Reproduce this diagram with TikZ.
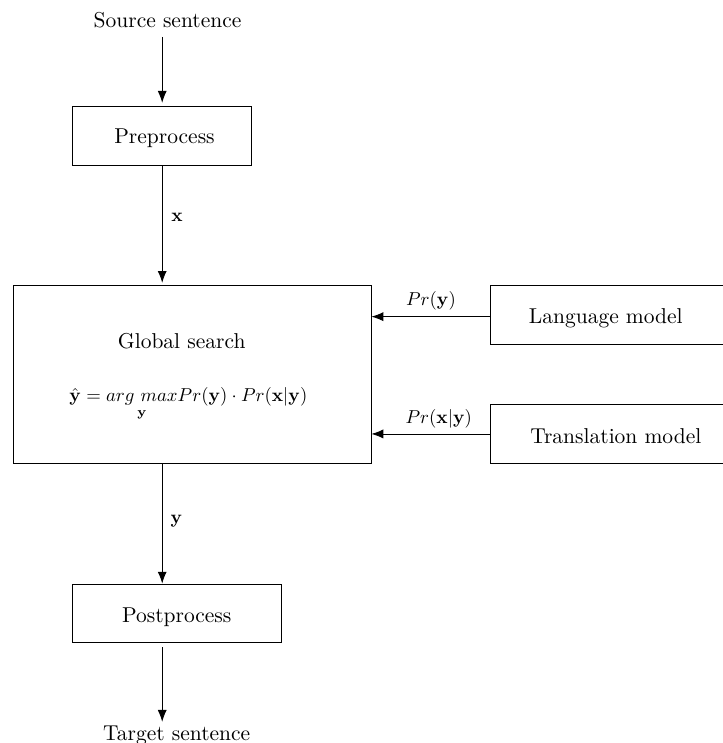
\documentclass[tikz,border=0pt]{standalone}
\usepackage{amsmath}
\usetikzlibrary{arrows.meta}
\begin{document}
\begin{tikzpicture}[x=0.46512pt,y=-0.46512pt,
  box/.style={draw,line width=0.4pt,inner sep=0pt},
  lbl/.style={inner sep=0pt,anchor=base},
  mth/.style={inner sep=0pt,scale=0.87},
  arr/.style={line width=0.4pt,-{Latex[length=5.5pt,width=4.2pt]}}]
\useasboundingbox (0,0) rectangle (722,743);
% boxes
\node[box,minimum width=83.26pt,minimum height=27.77pt] (pre) at (162.2,135.85) {};
\node[box,minimum width=166.51pt,minimum height=82.79pt] (gs) at (192,374) {};
\node[box,minimum width=110pt,minimum height=27.44pt] (lm) at (608.3,314.5) {};
\node[box,minimum width=120pt,minimum height=27.44pt] (tm) at (619,433.5) {};
\node[box,minimum width=97.21pt,minimum height=27.30pt] (post) at (177.2,613.35) {};
% texts
\node[lbl,inner sep=4pt] (src) at (167.5,27.5) {Source sentence};
\node[lbl] (pret) at (164.5,144) {Preprocess};
\node[lbl] (gst) at (181.7,348.3) {Global search};
\node[mth,anchor=base] (form) at (188.4,401.5) {$\hat{\mathbf{y}} = \underset{\mathbf{y}}{arg\ max} Pr(\mathbf{y})\cdot Pr(\mathbf{x}|\mathbf{y})$};
\node[lbl] (lmt) at (605.8,323.3) {Language model};
\node[lbl] (tmt) at (615.8,443.3) {Translation model};
\node[lbl] (posttext) at (176.7,622.3) {Postprocess};
\node[lbl,inner sep=1.5pt] (tgt) at (176.7,740) {Target sentence};
\node[mth,anchor=base] (pry) at (430.9,305) {$Pr(\mathbf{y})$};
\node[mth,anchor=base] (prxy) at (438.8,423.5) {$Pr(\mathbf{x}|\mathbf{y})$};
\node[mth] (xl) at (177,217) {$\mathbf{x}$};
\node[mth] (yl) at (176.5,521) {$\mathbf{y}$};
% connectors
\draw[arr,shorten >=1.3pt] (pre.north |- src.south) -- (pre.north);
\draw[arr,shorten >=0.8pt] (pre.south) -- (pre.south |- gs.north);
\draw[arr] ([yshift=-1pt]lm.west) -- ([yshift=-1pt]lm.west -| gs.east);
\draw[arr] ([yshift=-0.2pt]tm.west) -- ([yshift=-0.2pt]tm.west -| gs.east);
\draw[arr] (pre.south |- gs.south) -- (pre.south |- post.north);
\draw[arr,shorten <=1.9pt] (pre.south |- post.south) -- (pre.south |- tgt.north);
\end{tikzpicture}
\end{document}
